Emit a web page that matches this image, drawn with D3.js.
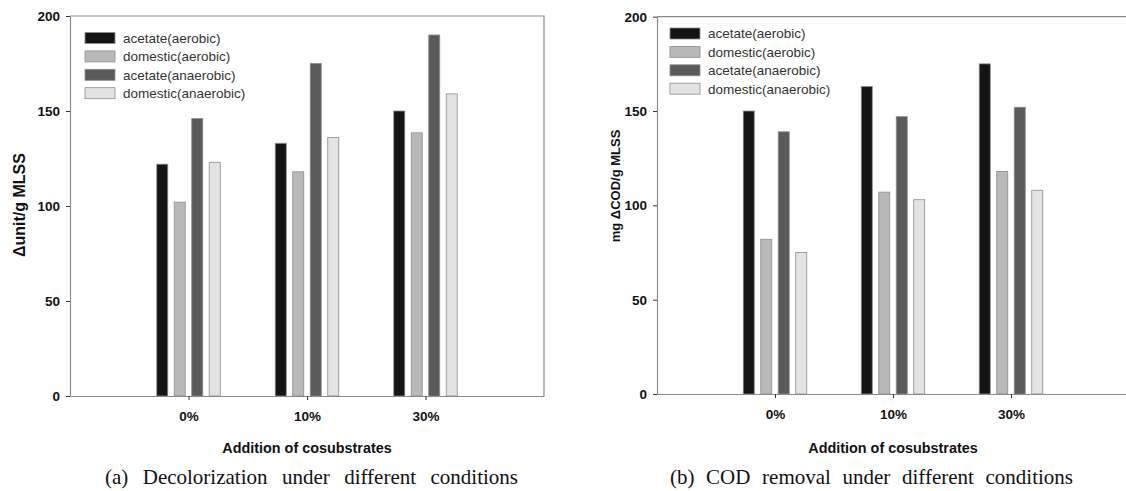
<!DOCTYPE html>
<html>
<head>
<meta charset="utf-8">
<script src="https://cdn.jsdelivr.net/npm/d3@7"></script>
<style>
  body { margin: 0; background: #fff; }
  svg { display: block; }
  .tick-label { font-family: "Liberation Sans", Arial, sans-serif; font-weight: bold; font-size: 13.5px; fill: #111; }
  .legend-label { font-family: "Liberation Sans", Arial, sans-serif; font-size: 13.5px; fill: #333; }
  .axis-title { font-family: "Liberation Sans", Arial, sans-serif; font-weight: bold; fill: #111; }
  .caption { font-family: "Liberation Serif", "Times New Roman", serif; font-size: 21px; fill: #111; }
</style>
</head>
<body>
<div id="wrapper"></div>
<script>
// data
const categories = ['0%', '10%', '30%'];
const seriesNames = ['acetate(aerobic)', 'domestic(aerobic)', 'acetate(anaerobic)', 'domestic(anaerobic)'];
const seriesColors = ['#141414', '#b9b9b9', '#5a5a5a', '#e3e3e3'];
const yTicks = [0, 50, 100, 150, 200];

// (a) decolorization, one array per series, one value per category
const decolorAcetateAerobic = [122, 133, 150];
const decolorDomesticAerobic = [102, 118, 138.5];
const decolorAcetateAnaerobic = [146, 175, 190];
const decolorDomesticAnaerobic = [123, 136, 159];

// (b) COD removal
const codAcetateAerobic = [150, 163, 175];
const codDomesticAerobic = [82, 107, 118];
const codAcetateAnaerobic = [139, 147, 152];
const codDomesticAnaerobic = [75, 103, 108];

const charts = [
  {
    series: [decolorAcetateAerobic, decolorDomesticAerobic, decolorAcetateAnaerobic, decolorDomesticAnaerobic],
    left: 70, right: 544, top: 16, bottom: 396,
    yTitle: 'Δunit/g MLSS', yTitleX: 25, yTitleY: 205, yTitleSize: 16,
    legendX: 85, legendY: 38,
    caption: '(a) Decolorization under different conditions', capLeft: 105, capRight: 518,
  },
  {
    series: [codAcetateAerobic, codDomesticAerobic, codAcetateAnaerobic, codDomesticAnaerobic],
    left: 657, right: 1129, top: 16.7, bottom: 394,
    yTitle: 'mg ΔCOD/g MLSS', yTitleX: 620, yTitleY: 186, yTitleSize: 13,
    legendX: 670, legendY: 33.5,
    caption: '(b) COD removal under different conditions', capLeft: 670, capRight: 1073,
  },
];

const width = 1126;
const height = 491;

const svg = d3.select('#wrapper')
  .append('svg')
  .attr('width', width)
  .attr('height', height);

charts.forEach(c => {
  const g = svg.append('g');

  // scales
  const x = d3.scaleLinear().domain([0, 4]).range([c.left, c.right]);
  const y = d3.scaleLinear().domain([0, 200]).range([c.bottom, c.top]);
  const inner = d3.scaleBand()
    .domain(d3.range(seriesNames.length))
    .range([-31.75, 31.75])
    .paddingInner(0.37);

  // frame (top + right)
  g.append('path')
    .attr('d', `M${c.left},${c.top}H${c.right}V${c.bottom}`)
    .attr('fill', 'none')
    .attr('stroke', '#8a8a8a')
    .attr('stroke-width', 1.2);

  // bars
  c.series.forEach((vals, si) => {
    g.selectAll(null)
      .data(vals)
      .enter()
      .append('rect')
      .attr('x', (d, i) => x(i + 1) + inner(si))
      .attr('y', d => y(d))
      .attr('width', inner.bandwidth())
      .attr('height', d => y(0) - y(d))
      .attr('fill', seriesColors[si])
      .attr('stroke', '#8c8c8c')
      .attr('stroke-width', 0.8);
  });

  // y axis
  const yAxis = g.append('g')
    .attr('transform', `translate(${c.left},0)`)
    .call(d3.axisLeft(y).tickValues(yTicks).tickSize(4).tickPadding(6).tickSizeOuter(0));
  yAxis.select('.domain').attr('stroke', '#8a8a8a').attr('stroke-width', 1.2);
  yAxis.selectAll('.tick line').attr('stroke', '#333');
  yAxis.selectAll('.tick text').attr('class', 'tick-label').attr('font-family', null).attr('font-size', null).attr('fill', null);

  // x axis
  const xAxis = g.append('g')
    .attr('transform', `translate(0,${c.bottom})`)
    .call(d3.axisBottom(x).tickValues([1, 2, 3]).tickFormat(d => categories[d - 1]).tickSize(4).tickPadding(11).tickSizeOuter(0));
  xAxis.select('.domain').attr('stroke', '#8a8a8a').attr('stroke-width', 1.2);
  xAxis.selectAll('.tick line').attr('stroke', '#333');
  xAxis.selectAll('.tick text').attr('class', 'tick-label').attr('font-family', null).attr('font-size', null).attr('fill', null);

  // axis titles
  g.append('text')
    .attr('class', 'axis-title')
    .attr('font-size', 14.4)
    .attr('x', x(2))
    .attr('y', 453)
    .attr('text-anchor', 'middle')
    .text('Addition of cosubstrates');

  g.append('text')
    .attr('class', 'axis-title')
    .attr('font-size', c.yTitleSize)
    .attr('transform', `translate(${c.yTitleX},${c.yTitleY}) rotate(-90)`)
    .attr('text-anchor', 'middle')
    .text(c.yTitle);

  // legend
  const legend = g.append('g');
  seriesNames.forEach((name, i) => {
    const cy = c.legendY + i * 18.4;
    legend.append('rect')
      .attr('x', c.legendX)
      .attr('y', cy - 5.5)
      .attr('width', 30)
      .attr('height', 11)
      .attr('fill', seriesColors[i])
      .attr('stroke', '#8c8c8c')
      .attr('stroke-width', 0.8);
    legend.append('text')
      .attr('class', 'legend-label')
      .attr('x', c.legendX + 38)
      .attr('y', cy + 4.8)
      .text(name);
  });

  // caption, justified across its width
  const cap = g.append('text')
    .attr('class', 'caption')
    .attr('x', c.capLeft)
    .attr('y', 484)
    .text(c.caption);
  const natural = cap.node().getComputedTextLength();
  const spaces = c.caption.split(' ').length - 1;
  cap.attr('word-spacing', Math.max(0, (c.capRight - c.capLeft - natural) / spaces));
});
</script>
</body>
</html>
